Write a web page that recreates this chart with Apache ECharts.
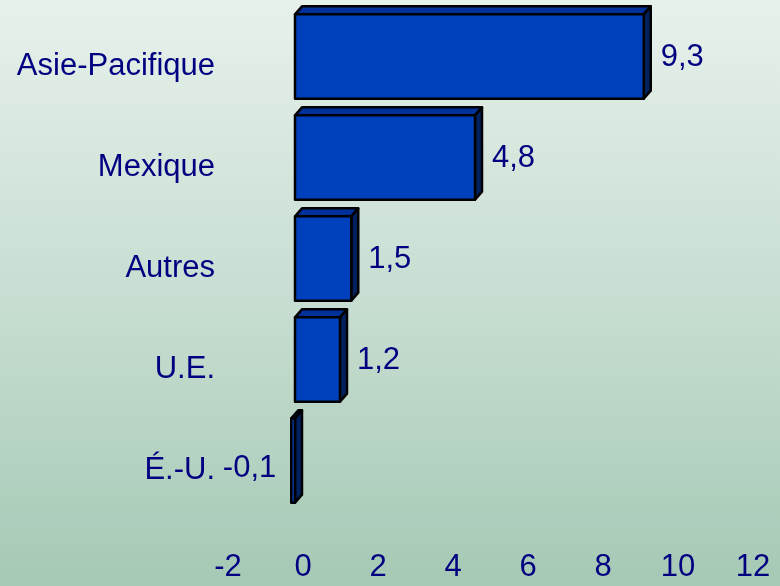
<!DOCTYPE html>
<html><head><meta charset="utf-8">
<script src="https://cdn.jsdelivr.net/npm/echarts@6/dist/echarts.min.js"></script>
<style>html,body{margin:0;padding:0;}#c{width:780px;height:586px;}</style>
</head><body><div id="c"></div>
<script>
const categories = ['Asie-Pacifique', 'Mexique', 'Autres', 'U.E.', 'É.-U.'];
const values = [9.3, 4.8, 1.5, 1.2, -0.1];
const valueLabels = ['9,3', '4,8', '1,5', '1,2', '-0,1'];
const xMin = -2, xMax = 12, xStep = 2;

const FONT = '"Liberation Sans", Arial, sans-serif';
const TXT = '#000080';
const FS = 31;

function renderItem(params, api) {
  const v = api.value(0);
  const ci = api.value(1);
  const p0 = api.coord([0, ci]);
  const p1 = api.coord([v, ci]);
  const band = api.size([0, 1])[1];
  const h = band * 0.835;
  const x0 = Math.min(p0[0], p1[0]), x1 = Math.max(p0[0], p1[0]);
  const yTop = p0[1] - h / 2, yBot = p0[1] + h / 2;
  const dx = 7, dy = 8;
  const stroke = { stroke: '#000', lineWidth: 2.5, lineJoin: 'round' };
  const lbl = valueLabels[params.dataIndex];
  return {
    type: 'group',
    children: [
      { type: 'polygon', shape: { points: [[x0, yTop], [x0 + dx, yTop - dy], [x1 + dx, yTop - dy], [x1, yTop]] },
        style: Object.assign({ fill: '#00309a' }, stroke) },
      { type: 'polygon', shape: { points: [[x1, yTop], [x1 + dx, yTop - dy], [x1 + dx, yBot - dy], [x1, yBot]] },
        style: Object.assign({ fill: '#00205e' }, stroke) },
      { type: 'rect', shape: { x: x0, y: yTop, width: x1 - x0, height: h },
        style: Object.assign({ fill: '#0040bd' }, stroke) },
      { type: 'text',
        x: v >= 0 ? x1 + 17 : x0 - 15,
        y: p0[1] + (v >= 0 ? 1 : 8),
        style: { text: lbl, fill: TXT, font: FS + 'px ' + FONT,
                 align: v >= 0 ? 'left' : 'right', verticalAlign: 'middle' } }
    ]
  };
}

const chart = echarts.init(document.getElementById('c'));
chart.setOption({
  backgroundColor: {
    type: 'linear', x: 0, y: 0, x2: 0, y2: 1,
    colorStops: [{ offset: 0, color: '#e7f1eb' }, { offset: 0.5, color: '#c8ded2' }, { offset: 1, color: '#a5c9b5' }]
  },
  animation: false,
  grid: { left: 220, right: 35, top: 6, bottom: 75, containLabel: false },
  xAxis: {
    type: 'value', min: xMin, max: xMax, interval: xStep,
    axisLine: { show: false }, axisTick: { show: false }, splitLine: { show: false },
    axisLabel: { color: TXT, fontSize: FS, fontFamily: FONT, margin: 41, padding: [0, 0, 0, 16] }
  },
  yAxis: {
    type: 'category', data: categories, inverse: true,
    axisLine: { show: false }, axisTick: { show: false }, splitLine: { show: false },
    axisLabel: { color: TXT, fontSize: FS, fontFamily: FONT, margin: 5,
                 verticalAlign: 'top', lineHeight: 20 }
  },
  series: [{
    type: 'custom',
    renderItem: renderItem,
    encode: { x: 0, y: 1 },
    data: values.map((v, i) => [v, i])
  }]
});
</script>
</body></html>
